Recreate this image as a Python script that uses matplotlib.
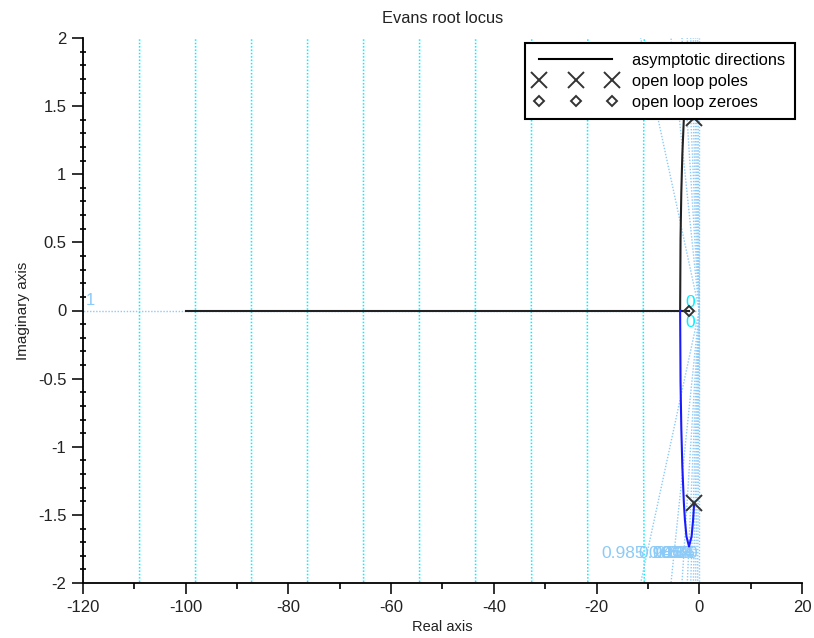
import numpy as np
import matplotlib
matplotlib.use("Agg")
import matplotlib.pyplot as plt
from matplotlib.lines import Line2D
from matplotlib.ticker import MultipleLocator

plt.rcParams['font.family'] = ['Liberation Sans', 'DejaVu Sans']

# ---- data ----
pole_re = [-1.0, -1.0]
pole_im = [1.414, -1.414]
zero_re = [-2.0]
zero_im = [0.0]

# complex branch (upper half, black); lower half is its mirror (blue)
branch_re = [-1.0, -1.2, -1.5, -2.0, -2.5, -2.8, -3.0, -3.3, -3.5, -3.65, -3.73]
branch_im = [1.414, 1.536, 1.658, 1.732, 1.658, 1.536, 1.414, 1.145, 0.866, 0.527, 0.0]
lower_im = [-v for v in branch_im]

# real-axis branch
real_re = [-100.0, -3.73, -2.0]
real_im = [0.0, 0.0, 0.0]

# grid (damping ratios and natural frequencies)
zeta = [0, 0.16, 0.34, 0.5, 0.64, 0.76, 0.86, 0.94, 0.985, 1]
zeta_labels = ['0', '0.16', '0.34', '0.5', '0.64', '0.76', '0.86', '0.94', '0.985', '1']
wn = [10.9, 21.8, 32.7, 43.6, 54.5, 65.4, 76.3, 87.2, 98.1, 109.0, 120.0]

xticks = [-120, -100, -80, -60, -40, -20, 0, 20]
yticks = [-2, -1.5, -1, -0.5, 0, 0.5, 1, 1.5, 2]
ytick_labels = ['-2', '-1.5', '-1', '-0.5', '0', '0.5', '1', '1.5', '2']

# ---- figure ----
W, H = 814, 638
fig = plt.figure(figsize=(W / 100, H / 100), dpi=100)
ax = fig.add_axes([83 / W, 1 - 583 / H, (802 - 83) / W, (583 - 38) / H])
ax.set_xlim(-120, 20)
ax.set_ylim(-2, 2)

CYAN = '#00f0ff'
LBLUE = '#8ccaf8'
dot = (0, (1, 1.2))

# natural-frequency circles
th = np.linspace(np.pi / 2, 3 * np.pi / 2, 2001)
for w in wn:
    ax.plot(w * np.cos(th), w * np.sin(th), color=CYAN, lw=1.1, ls=dot, zorder=1)

# damping-ratio lines
ylab = -1.78
for z, lab in zip(zeta, zeta_labels):
    s = np.sqrt(1 - z ** 2)
    if z >= 1:
        ax.plot([0, -120], [0, 0], color=LBLUE, lw=1.0, ls=dot, zorder=1)
        ax.text(-119.4, 0.02, lab, color=LBLUE, fontsize=12, ha='left', va='bottom', zorder=2)
        continue
    xe = -2.0 * z / s
    for sg in (1, -1):
        ax.plot([0, xe], [0, sg * 2.0], color=LBLUE, lw=1.0, ls=dot, zorder=1)
    xl = ylab * z / s
    ax.text(xl - 0.4, ylab, lab, color=LBLUE, fontsize=12.5,
            ha='right', va='center', zorder=2)

# "0" labels near the origin
ax.text(-1.75, 0.06, '0', color=CYAN, fontsize=12.5, ha='center', va='center', zorder=2)
ax.text(-1.75, -0.085, '0', color=CYAN, fontsize=12.5, ha='center', va='center', zorder=2)

# locus
ax.plot(real_re, real_im, color='#222222', lw=1.5, zorder=3)
ax.plot(branch_re, branch_im, color='#222222', lw=1.5, zorder=3)
ax.plot(branch_re, lower_im, color='#1a1aff', lw=1.5, zorder=3)

# poles and zeros
ax.plot(pole_re, pole_im, ls='none', marker='x', ms=11, mew=1.4, color='#333333', zorder=4)
ax.plot(zero_re, zero_im, ls='none', marker='D', ms=5, mew=1.4, mfc='none', mec='#333333', zorder=4)

# axes styling
for sp in ('top', 'right'):
    ax.spines[sp].set_visible(False)
for sp in ('left', 'bottom'):
    ax.spines[sp].set_linewidth(1.3)
    ax.spines[sp].set_zorder(5)
ax.set_xticks(xticks)
ax.set_xticklabels([str(v) for v in xticks])
ax.set_yticks(yticks)
ax.set_yticklabels(ytick_labels)
ax.xaxis.set_minor_locator(MultipleLocator(10))
ax.yaxis.set_minor_locator(MultipleLocator(0.1))
ax.tick_params(axis='both', which='major', direction='out', length=8, width=1.3,
               labelsize=12, colors='#222222', pad=4)
ax.tick_params(axis='x', which='minor', direction='out', length=4, width=1.2)
ax.tick_params(axis='y', which='minor', direction='inout', length=5, width=1.2)
ax.patch.set_visible(False)

ax.set_title('Evans root locus', fontsize=11.8, pad=11, color='#222222')
ax.set_xlabel('Real axis', fontsize=10.5, labelpad=4, color='#222222')
ax.set_ylabel('Imaginary axis', fontsize=11, labelpad=6, color='#222222')

handles = [
    Line2D([], [], color='black', lw=1.5),
    Line2D([], [], ls='none', marker='x', ms=11, mew=1.4, color='#333333'),
    Line2D([], [], ls='none', marker='D', ms=5, mew=1.4, mfc='none', mec='#333333'),
]
leg = ax.legend(handles, ['asymptotic directions', 'open loop poles', 'open loop zeroes'],
                loc='upper right', bbox_to_anchor=(795 / W, 1 - 43 / H),
                bbox_transform=fig.transFigure, numpoints=3, fontsize=11.8,
                frameon=True, fancybox=False, framealpha=1, edgecolor='black',
                borderpad=0.6, borderaxespad=0, handlelength=5.0, handletextpad=0.95,
                labelspacing=0.36)
leg.get_frame().set_linewidth(1.5)
leg.set_zorder(10)

fig.savefig('out.png', dpi=100)
